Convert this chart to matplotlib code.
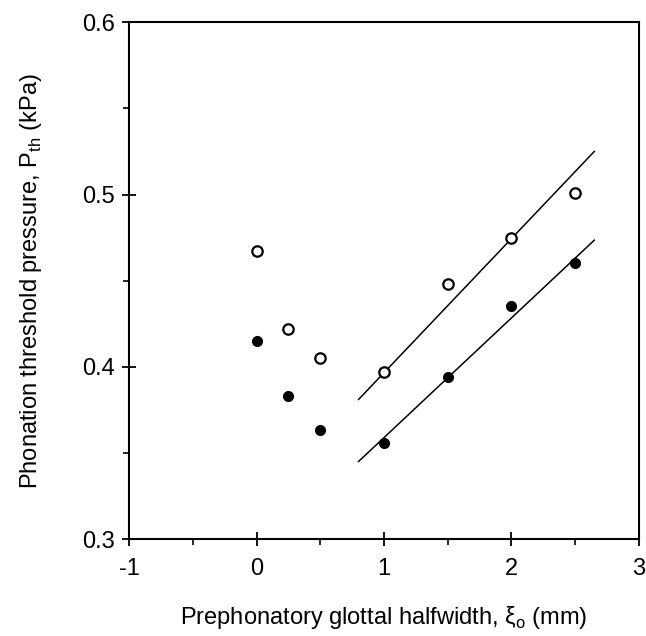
import matplotlib.pyplot as plt
from matplotlib.ticker import MultipleLocator

# Phonation threshold pressure vs prephonatory glottal halfwidth
halfwidth = [0.0, 0.25, 0.5, 1.0, 1.5, 2.0, 2.5]
p_open = [0.467, 0.422, 0.405, 0.397, 0.448, 0.475, 0.501]
p_filled = [0.415, 0.383, 0.363, 0.3555, 0.394, 0.435, 0.460]

# theory lines (end points)
line_x = [0.8, 2.65]
line_open = [0.381, 0.525]
line_filled = [0.345, 0.4735]

plt.rcParams['font.family'] = ['Liberation Sans', 'DejaVu Sans']
plt.rcParams['mathtext.fontset'] = 'custom'
plt.rcParams['mathtext.rm'] = 'Liberation Sans'

fig = plt.figure(figsize=(6.46, 6.36), dpi=100)
ax = fig.add_axes([0.2, 0.1525, 0.789, 0.8125])

ax.plot(line_x, line_open, color='black', lw=1.1)
ax.plot(line_x, line_filled, color='black', lw=1.1)
ax.plot(halfwidth, p_open, 'o', ms=7.5, mfc='white', mec='black', mew=1.6)
ax.plot(halfwidth, p_filled, 'o', ms=7, mfc='black', mec='black')

ax.set_xlim(-1, 3)
ax.set_ylim(0.3, 0.6)
ax.xaxis.set_minor_locator(MultipleLocator(0.5))
ax.yaxis.set_minor_locator(MultipleLocator(0.05))
ax.set_yticks([0.3, 0.4, 0.5, 0.6])
ax.set_yticklabels(['0.3', '0.4', '0.5', '0.6'])
ax.set_xticks([-1, 0, 1, 2, 3])
ax.set_xticklabels(['-1', '0', '1', '2', '3'])

ax.tick_params(which='major', direction='inout', length=10, width=1.3, labelsize=17)
ax.tick_params(axis='x', which='major', pad=9)
ax.tick_params(axis='y', which='major', pad=5)
ax.tick_params(which='minor', direction='out', length=4, width=1.2)
for s in ax.spines.values():
    s.set_linewidth(1.5)

ax.set_xlabel('Prephonatory glottal halfwidth, ξ$_{\\mathrm{o}}$ (mm)', fontsize=17, labelpad=17)
ax.set_ylabel('Phonation threshold pressure, P$_{\\mathrm{th}}$ (kPa)', fontsize=17, labelpad=28)

fig.savefig('out.png', dpi=100)
